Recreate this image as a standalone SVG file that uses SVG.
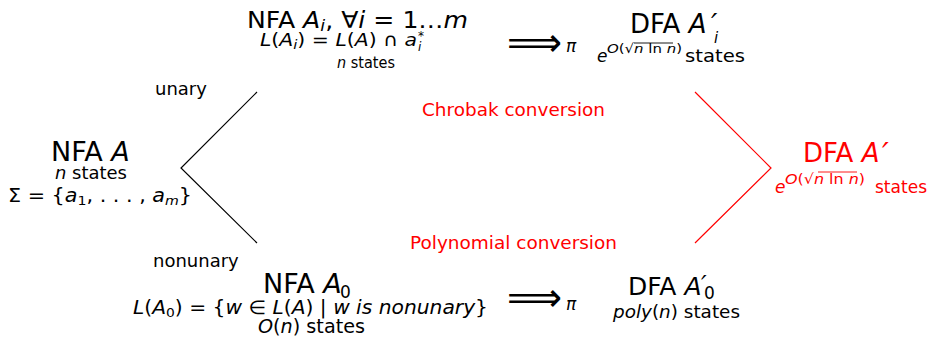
<svg xmlns="http://www.w3.org/2000/svg" width="930" height="343" viewBox="0 0 930 343">
<style>
text{font-family:"DejaVu Sans",sans-serif;fill:#000}
.i{font-style:italic}
.r,.r text{fill:#ff0000}
.ln{fill:none;stroke:#000;stroke-width:1.2}
.lr{fill:none;stroke:#ff0000;stroke-width:1.2}
.ov{stroke-width:0.9}
</style>
<rect width="930" height="343" fill="#fff"/>

<g id="node-nfa-A">
<text x="51" y="161" font-size="27">NFA <tspan class="i">A</tspan></text>
<text x="55" y="179" font-size="18" textLength="72" lengthAdjust="spacingAndGlyphs"><tspan class="i">n</tspan> states</text>
<text x="8" y="202" font-size="19" textLength="184" lengthAdjust="spacingAndGlyphs">Σ = {<tspan class="i">a</tspan><tspan font-size="13" dy="3">1</tspan><tspan dy="-3">, . . . , </tspan><tspan class="i">a</tspan><tspan class="i" font-size="13" dy="3">m</tspan><tspan dy="-3">}</tspan></text>
</g>

<g id="node-nfa-Ai">
<text x="247" y="27.5" font-size="23" textLength="221" lengthAdjust="spacingAndGlyphs">NFA <tspan class="i">A</tspan><tspan class="i" font-size="16" dy="3">i</tspan><tspan dy="-3">, ∀</tspan><tspan class="i">i</tspan> = 1…<tspan class="i">m</tspan></text>
<text x="260" y="46" font-size="18" textLength="157" lengthAdjust="spacingAndGlyphs"><tspan class="i">L</tspan>(<tspan class="i">A</tspan><tspan class="i" font-size="13" dy="3">i</tspan><tspan dy="-3">) = </tspan><tspan class="i">L</tspan>(<tspan class="i">A</tspan>) ∩ <tspan class="i">a</tspan></text>
<text x="418" y="40" font-size="12">*</text>
<text x="418" y="51" font-size="12" class="i">i</text>
<text x="337" y="68" font-size="15" textLength="58" lengthAdjust="spacingAndGlyphs"><tspan class="i">n</tspan> states</text>
</g>

<g id="node-dfa-Ai">
<text x="630" y="33" font-size="26">DFA <tspan class="i">A</tspan></text>
<text x="711" y="34" font-size="28" class="i">′</text>
<text x="714" y="43" font-size="15" class="i">i</text>
<text x="597" y="62" font-size="17" class="i">e</text>
<text x="607" y="53" font-size="13" textLength="75" lengthAdjust="spacingAndGlyphs"><tspan class="i">O</tspan>(√<tspan class="i">n</tspan> ln <tspan class="i">n</tspan>)</text>
<line class="ln ov" x1="634" y1="43" x2="673" y2="43"/>
<text x="685" y="62" font-size="18" textLength="60" lengthAdjust="spacingAndGlyphs">states</text>
</g>

<g id="node-nfa-A0">
<text x="263" y="293" font-size="27">NFA <tspan class="i">A</tspan></text>
<text x="340" y="298" font-size="17">0</text>
<text x="133" y="314" font-size="19" textLength="355" lengthAdjust="spacingAndGlyphs"><tspan class="i">L</tspan>(<tspan class="i">A</tspan><tspan font-size="13" dy="3">0</tspan><tspan dy="-3">) = {</tspan><tspan class="i">w</tspan> ∈ <tspan class="i">L</tspan>(<tspan class="i">A</tspan>) | <tspan class="i">w  is  nonunary</tspan>}</text>
<text x="258" y="333" font-size="19" textLength="107" lengthAdjust="spacingAndGlyphs"><tspan class="i">O</tspan>(<tspan class="i">n</tspan>) states</text>
</g>

<g id="node-dfa-A0">
<text x="628" y="295" font-size="25">DFA <tspan class="i">A</tspan></text>
<text x="701" y="293" font-size="25" class="i">′</text>
<text x="704" y="299" font-size="17">0</text>
<text x="613" y="318" font-size="18.5" textLength="127" lengthAdjust="spacingAndGlyphs"><tspan class="i">poly</tspan>(<tspan class="i">n</tspan>) states</text>
</g>

<g id="node-dfa-A" class="r">
<text x="803" y="162" font-size="26">DFA <tspan class="i">A</tspan></text>
<text x="882" y="164" font-size="30" class="i">′</text>
<text x="775" y="193" font-size="17" class="i">e</text>
<text x="785" y="184" font-size="14" textLength="80" lengthAdjust="spacingAndGlyphs"><tspan class="i">O</tspan>(√<tspan class="i">n</tspan> ln <tspan class="i">n</tspan>)</text>
<line class="lr ov" x1="818" y1="172" x2="857" y2="172"/>
<text x="875" y="193" font-size="17" textLength="52" lengthAdjust="spacingAndGlyphs">states</text>
</g>

<g id="connectors">
<polyline class="ln" points="257,92 181,168 257,243"/>
<polyline class="lr" points="695,92 771,168 695,243"/>
<text x="155" y="95" font-size="18">unary</text>
<text x="153" y="267" font-size="18">nonunary</text>
<g class="r">
<text x="422" y="115.5" font-size="18.4" textLength="183" lengthAdjust="spacingAndGlyphs">Chrobak conversion</text>
<text x="410" y="249" font-size="18.4" textLength="207" lengthAdjust="spacingAndGlyphs">Polynomial conversion</text>
</g>
<text x="507" y="56" font-size="40" textLength="55" lengthAdjust="spacingAndGlyphs">⟹</text>
<text x="566" y="52" font-size="17" class="i">π</text>
<text x="507" y="311" font-size="40" textLength="55" lengthAdjust="spacingAndGlyphs">⟹</text>
<text x="566" y="310" font-size="17" class="i">π</text>
</g>
</svg>
